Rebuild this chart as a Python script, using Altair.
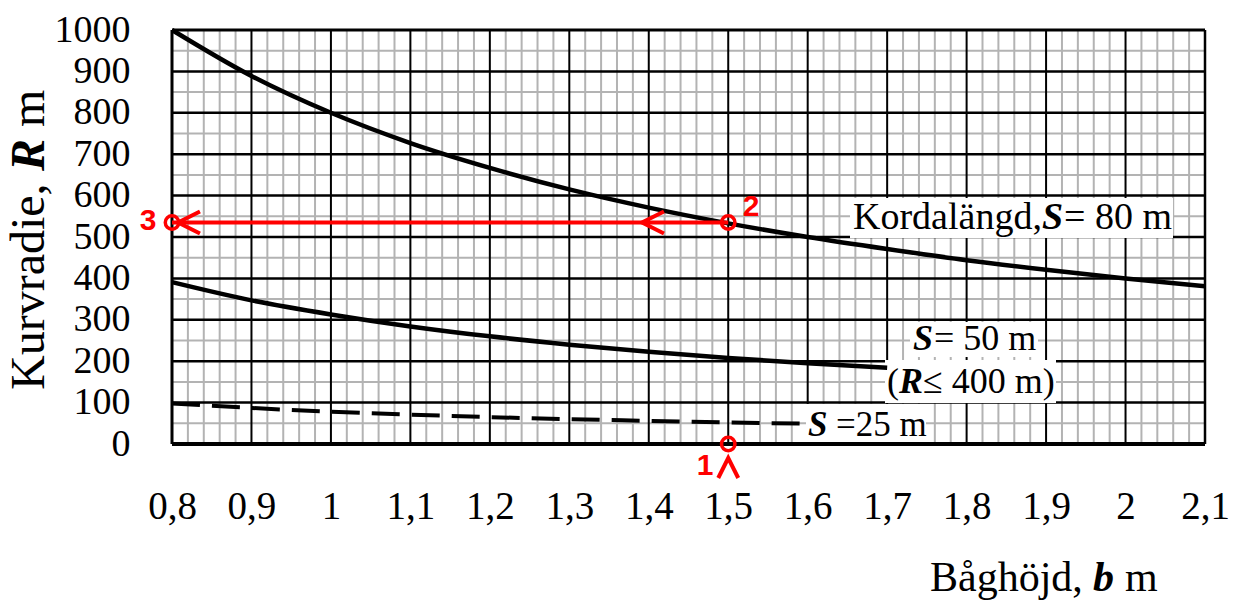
import altair as alt
import pandas as pd

# Chord curves: arc height b (m) against curve radius R (m)
b80 = [0.8, 0.9, 1.0, 1.1, 1.2, 1.3, 1.4, 1.5, 1.6, 1.7, 1.8, 1.9, 2.0, 2.1]
r80 = [1000, 889, 800, 727, 667, 615, 571, 533, 500, 471, 444, 421, 400, 381]
b50 = [0.8, 0.9, 1.0, 1.1, 1.2, 1.3, 1.4, 1.5, 1.6, 1.7]
r50 = [391, 347, 313, 284, 260, 240, 223, 208, 195, 184]
b25 = [0.8, 0.9, 1.0, 1.1, 1.2, 1.3, 1.4, 1.5, 1.6]
r25 = [98, 87, 78, 71, 65, 60, 56, 52, 49]

# Axis ticks
x_ticks = [0.8, 0.9, 1.0, 1.1, 1.2, 1.3, 1.4, 1.5, 1.6, 1.7, 1.8, 1.9, 2.0, 2.1]
y_ticks = [0, 100, 200, 300, 400, 500, 600, 700, 800, 900, 1000]

# Worked example: b = 1.5 m read up to the S = 80 m curve, then across to R
example_b = 1.5
example_r = 535

SERIF = "Liberation Serif"
RED = "#ff0000"

XS = alt.Scale(domain=[0.8, 2.1], nice=False, zero=False)
YS = alt.Scale(domain=[0, 1000], nice=False, zero=False)

AX = alt.Axis(
    values=x_ticks, format=".1~f", labelExpr="replace(datum.label, '.', ',')",
    labelFont=SERIF, labelFontSize=39, labelColor="black", labelPadding=43,
    ticks=False, domain=False, grid=False, labelFlush=False, labelOverlap=False,
    title=None,
)
AY = alt.Axis(
    values=y_ticks, format="d", labelFont=SERIF, labelFontSize=38,
    labelColor="black", labelPadding=42, ticks=False, domain=False, grid=False,
    labelFlush=False, labelOverlap=False, title=None,
)

# Grid positions
minor_x = [round(0.8 + 0.02 * i, 2) for i in range(66) if i % 5 != 0]
minor_y = [50 + 100 * i for i in range(10)]
major_x = x_ticks[1:-1]
major_y = y_ticks[1:-1]


def px_b(px):
    return 0.8 + (px - 172) * 1.3 / 1033


def px_r(py):
    return (444 - py) * 1000 / 414


def X(field="b:Q"):
    return alt.X(field, scale=XS, axis=AX)


def Y(field="r:Q"):
    return alt.Y(field, scale=YS, axis=AY)


def vrules(vals, color, width):
    return alt.Chart(pd.DataFrame({"b": vals})).mark_rule(
        color=color, strokeWidth=width
    ).encode(x=X())


def hrules(vals, color, width):
    return alt.Chart(pd.DataFrame({"r": vals})).mark_rule(
        color=color, strokeWidth=width
    ).encode(y=Y())


def piece(b, r, text, dx, size, strong=False):
    kw = dict(fontStyle="italic", fontWeight="bold") if strong else {}
    return alt.Chart(pd.DataFrame({"b": [b], "r": [r], "t": [text]})).mark_text(
        align="left", baseline="middle", dx=dx, fontSize=size, font=SERIF,
        color="black", **kw
    ).encode(text="t:N", x=X(), y=Y())


grey = "#b3b3b3"
grid = [
    vrules(minor_x, grey, 2),
    hrules(minor_y, grey, 2),
    vrules(major_x, "black", 2),
    hrules(major_y, "black", 2.5),
    vrules([0.8], "black", 3),
    vrules([2.1], "black", 2.5),
    hrules([1000], "black", 3),
    hrules([0], "black", 4),
]

# White boxes behind the curve labels
boxes = pd.DataFrame({
    "b1": [px_b(850), px_b(910), px_b(885), px_b(806)],
    "b2": [px_b(1173), px_b(1038), px_b(1056), px_b(926)],
    "r1": [px_r(198), px_r(322), px_r(360), px_r(404)],
    "r2": [px_r(238), px_r(357), px_r(403), px_r(442)],
})
box_layer = alt.Chart(boxes).mark_rect(color="white").encode(
    x=X("b1:Q"), x2="b2:Q", y=Y("r1:Q"), y2="r2:Q",
)

curves = pd.concat([
    pd.DataFrame({"b": b80, "r": r80, "s": "80"}),
    pd.DataFrame({"b": b50, "r": r50, "s": "50"}),
])
solid = alt.Chart(curves).mark_line(
    color="black", strokeWidth=4.5, interpolate="monotone"
).encode(x=X(), y=Y(), detail="s:N")
dashed = alt.Chart(pd.DataFrame({"b": b25, "r": r25})).mark_line(
    color="black", strokeWidth=4, strokeDash=[28, 12], interpolate="monotone"
).encode(x=X(), y=Y())

labels = [
    piece(px_b(853), px_r(218), "Kordalängd,", 0, 38),
    piece(px_b(853), px_r(218), "S", 189, 38, strong=True),
    piece(px_b(853), px_r(218), "= 80 m", 211, 38),
    piece(px_b(913), px_r(339), "S", 0, 36, strong=True),
    piece(px_b(913), px_r(339), "= 50 m", 21, 36),
    piece(px_b(887), px_r(382), "(", 0, 36),
    piece(px_b(887), px_r(382), "R", 12, 36, strong=True),
    piece(px_b(887), px_r(382), "≤ 400 m)", 36, 36),
    piece(px_b(808), px_r(425), "S", 0, 35, strong=True),
    piece(px_b(808), px_r(425), "=25 m", 28, 35),
]

# Worked example in red
red_line = alt.Chart(pd.DataFrame({
    "b": [0.8, example_b], "r": [example_r, example_r]
})).mark_line(color=RED, strokeWidth=4).encode(x=X(), y=Y())
red_circles = alt.Chart(pd.DataFrame({
    "b": [example_b, example_b, 0.8], "r": [0, example_r, example_r]
})).mark_point(
    shape="circle", size=180, strokeWidth=3.5, filled=False, color=RED, opacity=1
).encode(x=X(), y=Y())
red_left = alt.Chart(pd.DataFrame({
    "b": [px_b(189), px_b(653)], "r": [example_r, example_r]
})).mark_point(
    shape="M1,-1L-1,0L1,1", size=480, strokeWidth=4, filled=False,
    color=RED, opacity=1
).encode(x=X(), y=Y())
red_up = alt.Chart(pd.DataFrame({
    "b": [example_b], "r": [px_r(468)]
})).mark_point(
    shape="M-1,1L0,-1L1,1", size=400, strokeWidth=4, filled=False,
    color=RED, opacity=1
).encode(x=X(), y=Y())
red_nums = alt.Chart(pd.DataFrame({
    "b": [px_b(705), px_b(751), px_b(148)],
    "r": [px_r(466), px_r(207), px_r(221)],
    "t": ["1", "2", "3"],
})).mark_text(
    font="Liberation Sans", fontWeight="bold", fontSize=30, color=RED,
    align="center", baseline="middle"
).encode(text="t:N", x=X(), y=Y())


def title_piece(x, y, text, size, strong=False, angle=0):
    kw = dict(fontStyle="italic", fontWeight="bold") if strong else {}
    extra = dict(angle=angle) if angle else {}
    return alt.Chart(pd.DataFrame({"t": [text]})).mark_text(
        align="left", baseline="alphabetic", fontSize=size, font=SERIF,
        color="black", **kw, **extra
    ).encode(text="t:N", x=alt.value(x), y=alt.value(y))


# Axis titles (positions relative to the plot origin)
titles = [
    title_piece(930 - 172, 591 - 30, "Båghöjd,", 42),
    title_piece(1093 - 172, 591 - 30, "b", 42, strong=True),
    title_piece(1125 - 172, 591 - 30, "m", 42),
    title_piece(44 - 172, 390 - 30, "Kurvradie,", 48, angle=270),
    title_piece(44 - 172, 171 - 30, "R", 48, strong=True, angle=270),
    title_piece(44 - 172, 127 - 30, "m", 48, angle=270),
]

chart = alt.layer(
    *grid, box_layer, solid, dashed, *labels,
    red_line, red_circles, red_left, red_up, red_nums, *titles
).properties(
    width=1033, height=414,
    padding={"left": 172, "top": 30, "right": 38, "bottom": 166},
    autosize=alt.AutoSizeParams(type="none"),
    background="white",
).configure_view(stroke=None)

chart.save("out.html", embed_options={"renderer": "svg", "actions": False})
